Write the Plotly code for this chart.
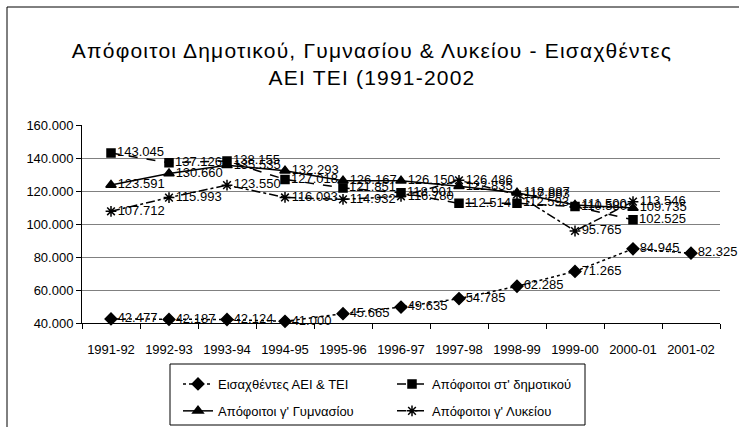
import plotly.graph_objects as go

years = ["1991-92", "1992-93", "1993-94", "1994-95", "1995-96", "1996-97",
         "1997-98", "1998-99", "1999-00", "2000-01", "2001-02"]

eisaxthentes = [42477, 42187, 42124, 41000, 45665, 49635, 54785, 62285, 71265, 84945, 82325]
dimotiko = [143045, 137126, 138155, 127018, 121851, 118901, 112514, 112593, 110580, 102525]
gymnasio = [123591, 130660, 135535, 132293, 126167, 126150, 122835, 118887, 111500, 109735]
lykeio = [107712, 115993, 123550, 116093, 114932, 116780, 126486, 117883, 95765, 113546]

names = ["Εισαχθέντες ΑΕΙ & ΤΕΙ", "Απόφοιτοι στ' δημοτικού",
         "Απόφοιτοι γ' Γυμνασίου", "Απόφοιτοι γ' Λυκείου"]

W, H = 739, 427
ML, MR, MT, MB = 82, 19, 125, 104
PW, PH = W - ML - MR, H - MT - MB

FONT = "Liberation Sans"


def fmt(v):
    return f"{v:,}".replace(",", ".")


series = [
    (eisaxthentes, names[0], "dot", "diamond", 9, "legend"),
    (dimotiko, names[1], "dash", "square", 8, "legend2"),
    (gymnasio, names[2], "solid", "triangle-up", 9, "legend"),
    (lykeio, names[3], "dashdot", "asterisk-open", 9, "legend2"),
]

fig = go.Figure()
for i, (vals, name, dash, sym, size, leg) in enumerate(series):
    fig.add_trace(go.Scatter(
        x=years[:len(vals)], y=vals, name=name,
        mode="lines+markers+text",
        line=dict(color="black", width=1.5, dash=dash),
        marker=dict(symbol=sym, size=size, color="black",
                    line=dict(color="black", width=1.5)),
        text=[fmt(v) for v in vals],
        textposition="middle right",
        textfont=dict(family=FONT, size=13, color="black"),
        cliponaxis=False,
        legend=leg, legendgroup=f"g{i}",
    ))


def px_x(p):
    return (p - ML) / PW


def px_y(p):
    return (H - MB - p) / PH


leg_common = dict(
    orientation="v",
    xref="container", yref="container",
    xanchor="left", yanchor="top",
    y=1 - 369 / H,
    bgcolor="rgba(0,0,0,0)", borderwidth=0,
    font=dict(family=FONT, size=13),
    tracegroupgap=7,
    traceorder="grouped",
)

fig.update_layout(
    width=W, height=H,
    margin=dict(l=ML, r=MR, t=MT, b=MB, autoexpand=False),
    paper_bgcolor="white", plot_bgcolor="white",
    separators=",.",
    font=dict(family=FONT, size=13, color="black"),
    title=dict(
        text="Απόφοιτοι Δημοτικού, Γυμνασίου & Λυκείου - Εισαχθέντες<br>ΑΕΙ ΤΕΙ (1991-2002",
        x=372 / W, xanchor="center", xref="container",
        y=1 - 58 / H, yanchor="middle", yref="container",
        font=dict(family=FONT, size=21, color="black"),
    ),
    xaxis=dict(
        type="category", categoryorder="array", categoryarray=years,
        range=[-0.5, 10.5], automargin=False,
        showline=True, linecolor="black", linewidth=1,
        ticks="outside", tickson="boundaries", ticklen=5, tickcolor="black",
        ticklabelstandoff=14,
        showgrid=False, zeroline=False,
        tickfont=dict(family=FONT, size=13),
    ),
    yaxis=dict(
        range=[40000, 160000], dtick=20000, tickformat=",d",
        automargin=False,
        showline=True, linecolor="black", linewidth=1,
        ticks="outside", ticklen=5, tickcolor="black",
        showgrid=True, gridcolor="#808080", gridwidth=1,
        zeroline=False,
        tickfont=dict(family=FONT, size=13),
    ),
    legend=dict(x=178 / W, **leg_common),
    legend2=dict(x=392 / W, **leg_common),
    shapes=[
        dict(type="line", xref="paper", yref="paper",
             x0=px_x(7), x1=px_x(W + 5), y0=px_y(7), y1=px_y(7),
             line=dict(color="black", width=1)),
        dict(type="line", xref="paper", yref="paper",
             x0=px_x(7), x1=px_x(7), y0=px_y(7), y1=px_y(H + 5),
             line=dict(color="black", width=1)),
        dict(type="rect", xref="paper", yref="paper",
             x0=px_x(170), x1=px_x(585), y0=px_y(364), y1=px_y(425),
             line=dict(color="black", width=1), fillcolor="rgba(0,0,0,0)"),
    ],
)

post = (
    "document.body.style.margin='0';"
    "document.querySelectorAll('.gtitle').forEach(function(e){e.style.letterSpacing='1.2px';});"
)

fig.write_html("out.html", post_script=post, config={"displayModeBar": False})
